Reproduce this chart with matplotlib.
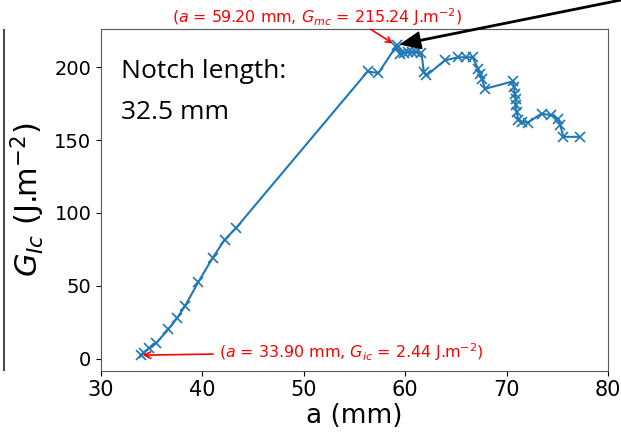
import numpy as np
import matplotlib.pyplot as plt
from matplotlib.lines import Line2D

# crack length a (mm) and energy release rate G_Ic (J/m^2)
a_mm = [33.9, 34.2, 34.76, 35.42, 36.64, 37.52, 38.28, 39.6, 41.0, 42.2, 43.3,
        56.3, 57.35, 59.2, 59.15, 59.5, 59.9, 60.3, 60.7, 61.1, 61.6, 61.85, 62.1,
        63.9, 65.2, 66.0, 66.65, 67.2, 67.4, 67.55, 67.9,
        70.6, 70.75, 70.8, 70.9, 70.9, 71.0, 71.15, 71.5, 72.1,
        73.45, 74.4, 75.1, 75.3, 75.6, 77.2]
g_ic = [2.44, 4.0, 7.1, 10.5, 20.1, 28.0, 36.0, 52.6, 69.0, 81.6, 89.5,
        197.1, 195.9, 215.24, 213.0, 209.0, 209.8, 210.3, 210.3, 210.3, 209.8, 196.6, 194.3,
        204.6, 206.8, 206.8, 206.8, 198.8, 195.4, 192.0, 185.2,
        190.2, 186.3, 181.8, 178.3, 173.8, 169.2, 163.6, 162.4, 162.0,
        168.1, 167.0, 164.3, 160.2, 152.2, 152.2]

a_init, g_init = 33.90, 2.44
a_max, g_max = 59.20, 215.24

fig = plt.figure(figsize=(6.21, 4.33), dpi=100)
ax = fig.add_axes([0.1626, 0.144, 0.8164, 0.788])

ax.plot(a_mm, g_ic, marker='x', color='#1f77b4', lw=1.5, ms=6.5, mew=1.2)
ax.set_xlim(30, 80)
ax.set_xticks([30, 40, 50, 60, 70, 80])
ax.set_yticks([0, 50, 100, 150, 200])
ax.tick_params(axis='x', labelsize=15)
ax.tick_params(axis='y', labelsize=14)
for sp in ax.spines.values():
    sp.set_color('0.35')
ax.set_xlabel('a (mm)', fontsize=19, labelpad=2)
ax.set_ylabel(r'$G_{Ic}$ (J.m$^{-2}$)', fontsize=22, labelpad=5)

ax.text(32, 183, 'Notch length:\n32.5 mm', fontsize=19, family='Open Sans',
        va='center', ha='left', linespacing=1.85)

# initiation point
ax.annotate(r'($a$ = %.2f mm, $G_{ic}$ = %.2f J.m$^{-2}$)' % (a_init, g_init),
            xy=(a_init + 0.2, g_init), xytext=(41.6, 4.6), color='red', fontsize=11.4,
            ha='left', va='center',
            arrowprops=dict(arrowstyle='->', color='red', lw=1.2, shrinkA=2, shrinkB=0))

# maximum point
ax.text(51.3, 234.5, r'($a$ = %.2f mm, $G_{mc}$ = %.2f J.m$^{-2}$)' % (a_max, g_max),
        color='red', fontsize=11.4, ha='center', va='center', clip_on=False)
ax.annotate('', xy=(a_max - 0.4, g_max + 1), xytext=(56.6, 226),
            arrowprops=dict(arrowstyle='->', color='red', lw=1.2, shrinkA=0, shrinkB=0),
            annotation_clip=False)
ax.annotate('', xy=(a_max + 0.4, g_max + 0.5), xycoords='data',
            xytext=(1.0, 1.0), textcoords='figure fraction',
            arrowprops=dict(facecolor='black', edgecolor='black', width=1,
                            headwidth=12, headlength=14, shrink=0),
            annotation_clip=False)

# thin border line on the left edge of the image
fig.add_artist(Line2D([0.006, 0.006], [1 - 30 / 433, 1 - 370 / 433],
                      transform=fig.transFigure, color='0.3', lw=1.5))

fig.savefig('out.png', dpi=100)
